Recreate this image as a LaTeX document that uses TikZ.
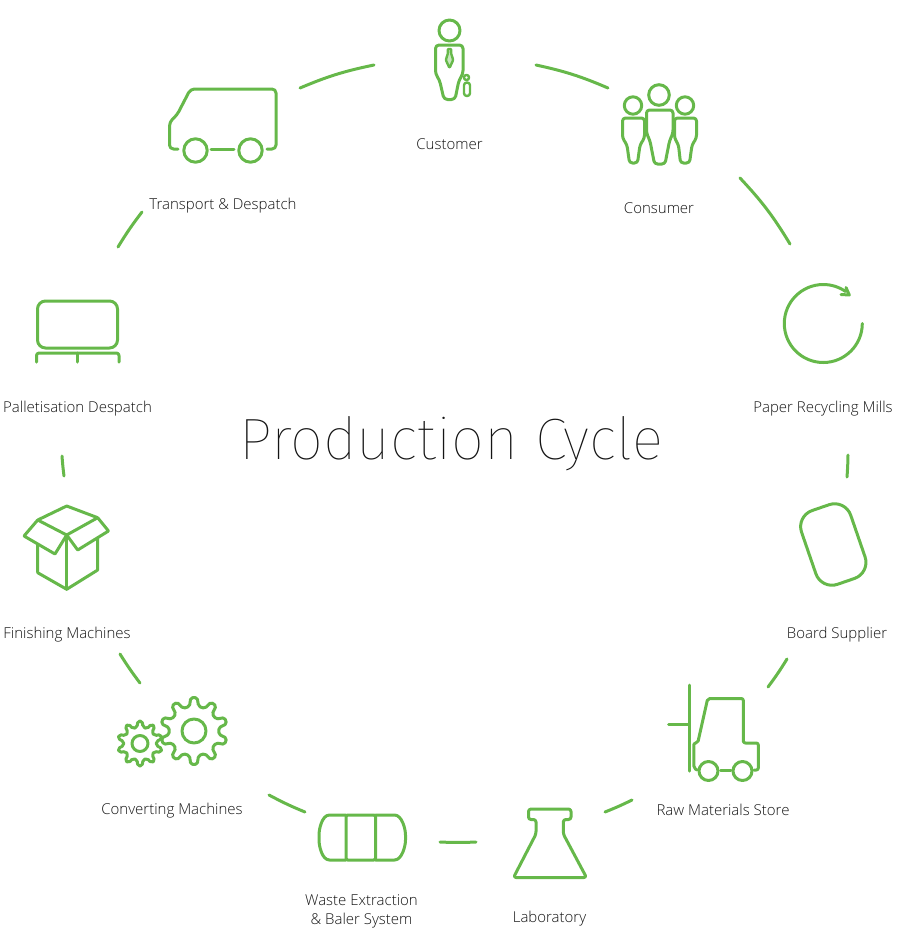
\documentclass[tikz,border=0pt]{standalone}
\usepackage{fontspec}
\setmainfont{Open Sans Light}
\newfontfamily\titlefont[Ligatures=NoCommon]{Fira Sans Thin}
\definecolor{grn}{RGB}{102,184,74}
\definecolor{txt}{RGB}{20,20,20}
\tikzset{
 ico/.style={draw=grn,line width=3pt,line join=round,line cap=round,rounded corners=2.5pt},
 ring/.style={draw=grn,line width=3pt,line cap=round},
 lbl/.style={text=txt,font=\fontsize{15pt}{19pt}\selectfont,align=center,inner sep=0pt},
 blbl/.style={lbl,anchor=base},
}
\newcommand{\gearpath}[5]{% cx cy root tip hole
 \begin{scope}[shift={(#1,#2)}]
 \draw[ico,rounded corners=1.8pt] (90-10.5:#3 pt)
  \foreach \a in {90,126,...,414}{ -- (\a-10.5:#3 pt) -- (\a-5.5:#4 pt) -- (\a+5.5:#4 pt) -- (\a+10.5:#3 pt) } -- cycle;
 \draw[ico] (0,0) circle[radius=#5pt];
 \end{scope}}
\begin{document}
\begin{tikzpicture}[x=1pt,y=-1pt]
\useasboundingbox (0,0) rectangle (909,946);
% labels
\node[blbl] (customer) at (449.5,149) {Customer};
\node[blbl] (consumer) at (659,213) {Consumer};
\node[blbl] (transport) at (223,209) {Transport \& Despatch};
\node[blbl] (recycling) at (823,412) {Paper Recycling Mills};
\node[blbl] (pallet) at (77.5,412) {Palletisation Despatch};
\node[blbl] (board) at (837,638) {Board Supplier};
\node[blbl] (finishing) at (67,638) {Finishing Machines};
\node[blbl] (raw) at (723,815) {Raw Materials Store};
\node[blbl] (converting) at (172,814) {Converting Machines};
\node[blbl] (lab) at (549.5,922) {Laboratory};
\node[lbl] (waste) at (361.5,911) {Waste Extraction\\\& Baler System};
\node[text=txt,inner sep=0pt,anchor=base,font=\titlefont\fontsize{58.4pt}{60pt}\selectfont] (title) at (451.5,459) {Production Cycle};
% ring segments
\coordinate (a1) at (300,88); \coordinate (b1) at (374,65);
\coordinate (a2) at (536,65); \coordinate (b2) at (608,88);
\coordinate (a3) at (740,178); \coordinate (b3) at (790,244);
\coordinate (a4) at (848,455); \coordinate (b4) at (847,477);
\coordinate (a5) at (787,659); \coordinate (b5) at (768,687);
\coordinate (a6) at (632,800); \coordinate (b6) at (605,812);
\coordinate (a7) at (476,842); \coordinate (b7) at (440,842);
\coordinate (a8) at (305,812); \coordinate (b8) at (269,795);
\coordinate (a9) at (140,683); \coordinate (b9) at (120,654);
\coordinate (a10) at (64,476); \coordinate (b10) at (62,456);
\coordinate (a11) at (118,247); \coordinate (b11) at (142,212);
\draw[ring] (a1) to[bend left=5.6] (b1);
\draw[ring] (a2) to[bend left=5.5] (b2);
\draw[ring] (a3) to[bend left=6] (b3);
\draw[ring] (a4) to[bend left=1.6] (b4);
\draw[ring] (a5) to[bend left=2.5] (b5);
\draw[ring] (a6) to[bend left=2.2] (b6);
\draw[ring] (a7) to[bend left=2.6] (b7);
\draw[ring] (a8) to[bend left=2.9] (b8);
\draw[ring] (a9) to[bend left=2.5] (b9);
\draw[ring] (a10) to[bend left=1.5] (b10);
\draw[ring] (a11) to[bend left=3] (b11);
% customer
\draw[ico] (449.5,30.5) circle[radius=10.5pt];
\draw[ico,rounded corners=3.5pt] (449.5,45) -- (435.5,45) -- (435.5,74) -- (439.5,80) -- (444,99.5) -- (455,99.5) -- (459,80) -- (463,74) -- (463,45) -- cycle;
\draw[ico,line width=2.4pt,rounded corners=1pt,fill=grn!35] (447.6,49) -- (451.4,49) -- (451,53) -- (453.2,60) -- (449.5,68) -- (445.8,60) -- (448,53) -- cycle;
\draw[ico,line width=2.4pt] (466.5,77.5) circle[radius=2.6pt];
\draw[ico,line width=2.4pt,rounded corners=2.8pt] (464,82.5) rectangle (470,96);
% consumer
\draw[ico] (659,95) circle[radius=10.3pt];
\draw[ico] (633,105.5) circle[radius=8.7pt];
\draw[ico] (685,105.5) circle[radius=8.7pt];
\draw[ico,rounded corners=3pt] (659.5,110) -- (646.5,110) -- (646.5,133) -- (650,141) -- (654.5,164) -- (665,164) -- (669.5,141) -- (673,133) -- (673,110) -- cycle;
\draw[ico,rounded corners=3pt] (633.5,118) -- (622.5,118) -- (622.5,138) -- (627,145) -- (629.5,163) -- (637.5,163) -- (640,145) -- (644.5,138) -- (644.5,118) -- cycle;
\draw[ico,rounded corners=3pt] (685,118) -- (674.5,118) -- (674.5,138) -- (678.5,145) -- (680.5,163) -- (689.5,163) -- (692,145) -- (696.5,138) -- (696.5,118) -- cycle;
% van
\draw[ico,rounded corners=4pt] (178,149) -- (169.5,149) -- (169.5,122) -- (177,115) -- (190.5,89) -- (276,89) -- (276,149) -- (267,149);
\draw[ico] (195.5,150.5) circle[radius=11.7pt];
\draw[ico] (250.5,150.5) circle[radius=11.7pt];
\draw[ico] (211,149) -- (234,149);
% pallet
\draw[ico,rounded corners=8pt] (37.5,301) rectangle (117.5,348);
\draw[ico] (36.5,362) -- (36.5,353) -- (119,353) -- (119,362);
\draw[ico] (77.5,353) -- (77.5,362);
% box
\draw[ico,rounded corners=0.5pt] (66.7,506) -- (97.7,517.7) -- (66.7,535) -- (37.7,520) -- cycle;
\draw[ico,rounded corners=0.5pt] (37.7,520) -- (24,536) -- (55,554) -- (66.7,535);
\draw[ico,rounded corners=0.5pt] (97.7,517.7) -- (108.5,531) -- (77.7,550) -- (66.7,535);
\draw[ico,rounded corners=0.5pt] (37.7,544) -- (37.7,572.7) -- (66.7,589.3) -- (97.7,570) -- (97.7,538);
\draw[ico] (66.7,535) -- (66.7,589.3);
% gears
\gearpath{194}{731}{25}{33.5}{12}
\gearpath{140}{743.5}{16.5}{22.5}{8}
% forklift
\draw[ico] (689,685) -- (689,771);
\draw[ico] (668.5,724) -- (689,724);
\draw[ico,rounded corners=2pt] (697,770) -- (693.8,768) -- (693.8,743) -- (697.7,743) -- (707.7,698.5) -- (743.3,698.5) -- (743.3,743) -- (758.3,743) -- (758.3,770) -- (754,770);
\draw[ico] (708.5,771) circle[radius=9.5pt];
\draw[ico] (742.5,771) circle[radius=9.5pt];
\draw[ico] (720.5,770) -- (731,770);
% flask
\draw[ico,rounded corners=2.5pt] (528.5,809) -- (571,809) -- (571,819.5) -- (563.3,819.5) -- (563.3,834) -- (586.5,877.5) -- (513.5,877.5) -- (536,834) -- (536,819.5) -- (528.5,819.5) -- cycle;
% tank
\draw[ico,rounded corners=1.5pt] (346,815) -- (375.5,815) -- (375.5,860) -- (346,860) -- cycle;
\draw[ico] (346,815) -- (332,815) .. controls (322,815) and (319,829) .. (319,837.5) .. controls (319,846) and (322,860) .. (332,860) -- (346,860);
\draw[ico] (375.5,815) -- (392,815) .. controls (402,815) and (405.5,829) .. (405.5,837.5) .. controls (405.5,846) and (402,860) .. (392,860) -- (375.5,860);
% recycle
\draw[ring] (862.3,323.5) arc[start angle=0,end angle=-305,radius=39pt];
\draw[ico,rounded corners=0pt] (841,294.5) -- (849.3,295) -- (846,287.5);
% board
\draw[ico,rounded corners=17pt,rotate around={19:(833.3,544.5)}] (807.3,505.5) rectangle (859.3,583.5);
\end{tikzpicture}
\end{document}
